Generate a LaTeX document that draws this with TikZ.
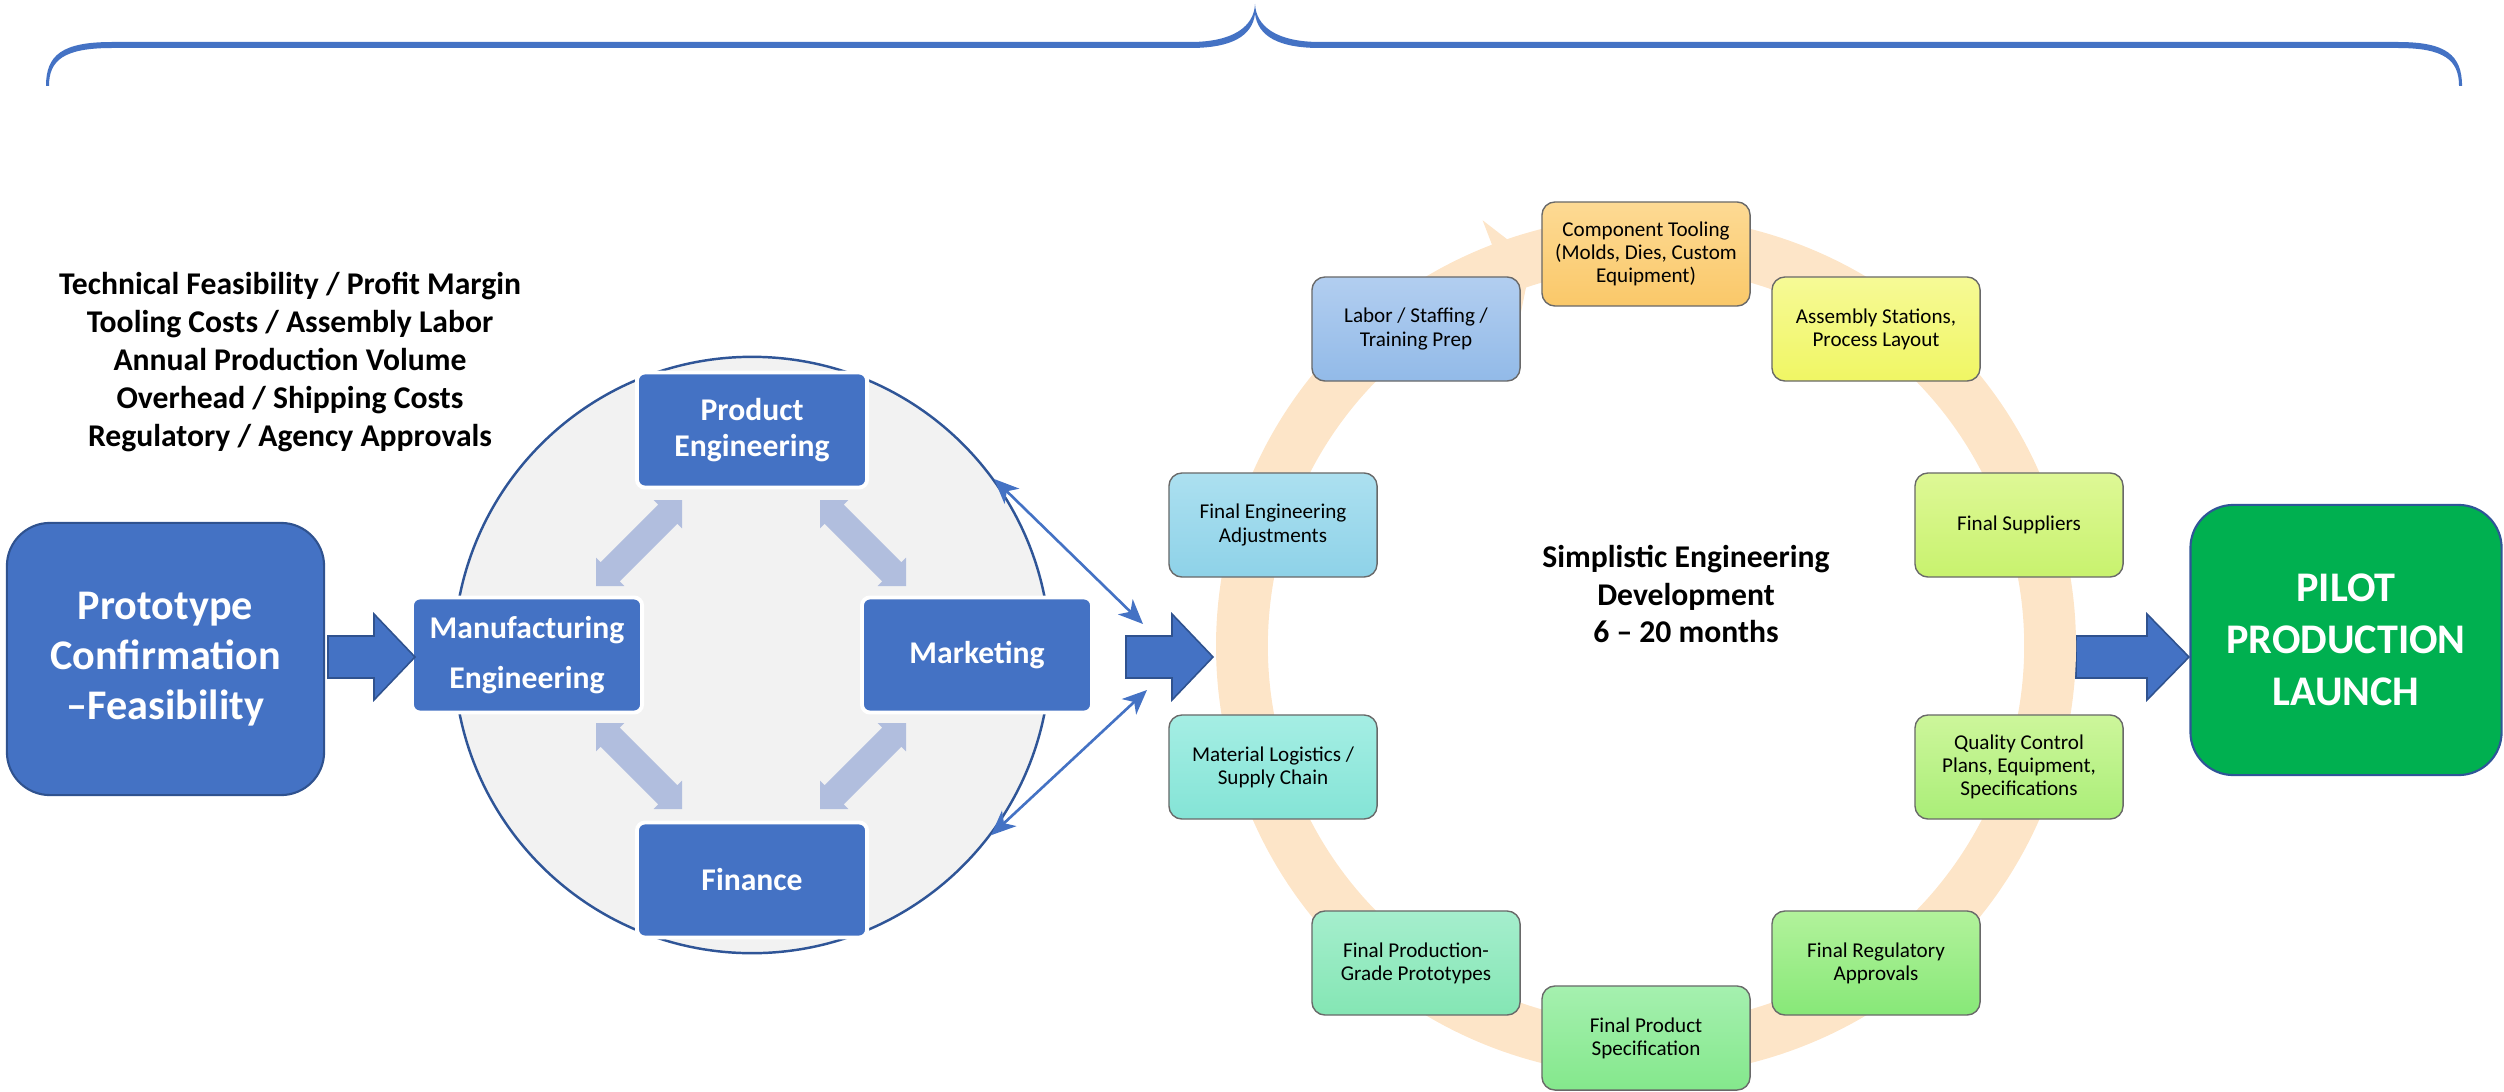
\documentclass[tikz,border=0pt]{standalone}
\usepackage{fontspec}
\setmainfont{Carlito}
\usetikzlibrary{arrows.meta,calc}
\definecolor{mainblue}{RGB}{68,114,196}
\definecolor{darkblue}{RGB}{47,82,143}
\definecolor{navy}{RGB}{47,85,151}
\definecolor{circfill}{RGB}{242,242,242}
\definecolor{lightarr}{RGB}{177,190,222}
\definecolor{peach}{RGB}{253,229,200}
\definecolor{pilotgreen}{RGB}{0,176,80}
\definecolor{cyborder}{RGB}{105,105,105}
\definecolor{cAt}{RGB}{253,218,148}\definecolor{cAb}{RGB}{250,200,105}
\definecolor{cBt}{RGB}{246,250,150}\definecolor{cBb}{RGB}{240,246,100}
\definecolor{cCt}{RGB}{222,248,150}\definecolor{cCb}{RGB}{200,242,110}
\definecolor{cDt}{RGB}{205,246,155}\definecolor{cDb}{RGB}{170,238,120}
\definecolor{cEt}{RGB}{178,242,155}\definecolor{cEb}{RGB}{135,232,120}
\definecolor{cFt}{RGB}{165,240,175}\definecolor{cFb}{RGB}{132,232,140}
\definecolor{cGt}{RGB}{165,238,205}\definecolor{cGb}{RGB}{132,230,180}
\definecolor{cHt}{RGB}{165,238,228}\definecolor{cHb}{RGB}{132,228,214}
\definecolor{cIt}{RGB}{172,224,240}\definecolor{cIb}{RGB}{142,210,232}
\definecolor{cJt}{RGB}{178,206,240}\definecolor{cJb}{RGB}{146,186,232}
\newcommand{\dblarrow}[2]{%
  \fill[lightarrow] (#1) -- ($(#1)!0.2828cm!45:(#2)$) -- ($(#1)!0.2413cm!34.02:(#2)$)
   -- ($(#2)!0.2413cm!-34.02:(#1)$) -- ($(#2)!0.2828cm!-45:(#1)$) -- (#2)
   -- ($(#2)!0.2828cm!45:(#1)$) -- ($(#2)!0.2413cm!34.02:(#1)$)
   -- ($(#1)!0.2413cm!-34.02:(#2)$) -- ($(#1)!0.2828cm!-45:(#2)$) -- cycle;}
\newcommand{\blkarrow}[3]{%
  \draw[blockarrow] (#1,636) -- (#2,636) -- (#2,614) -- (#3,657) -- (#2,700) -- (#2,678) -- (#1,678) -- cycle;}
\begin{document}
\begin{tikzpicture}[x=0.01cm,y=-0.01cm,
  bigbox/.style={rounded corners=0.43cm, draw=darkblue, line width=0.6pt, fill=mainblue, text=white,
    font=\fontsize{12}{14.3}\selectfont\bfseries, align=center, inner sep=0},
  teambox/.style={rounded corners=0.08cm, draw=white, line width=1.1pt, fill=mainblue, text=white,
    font=\fontsize{9}{10.2}\selectfont\bfseries, align=center, minimum width=2.3cm, minimum height=1.15cm, inner sep=0},
  cyclebox/.style={rounded corners=0.13cm, draw=cyborder, line width=0.4pt, minimum width=2.08cm,
    minimum height=1.04cm, align=center, font=\fontsize{6}{6.6}\selectfont, inner sep=0},
  blockarrow/.style={fill=mainblue, draw=darkblue, line width=0.45pt},
  lightarrow/.style={fill=lightarr},
  linkarrow/.style={draw=mainblue, line width=0.75pt,
    {Stealth[length=7pt,width=6pt,inset=2pt]}-{Stealth[length=7pt,width=6pt,inset=2pt]}},
  bigtext/.style={font=\fontsize{9}{10.8}\selectfont\bfseries, align=center}
]
\useasboundingbox (0,0) rectangle (2504,1091);

% brace
\fill[mainblue] (46,86) .. controls (46,55) and (62,42) .. (112,42) -- (1190,42)
  .. controls (1234,42) and (1254,26) .. (1255,4) .. controls (1256,26) and (1276,42) .. (1320,42)
  -- (2398,42) .. controls (2446,42) and (2462,55) .. (2462,86)
  -- (2459,86) .. controls (2459,60) and (2444,48) .. (2398,48) -- (1320,48)
  .. controls (1278,48) and (1258,36) .. (1255,14) .. controls (1252,36) and (1232,48) .. (1190,48)
  -- (112,48) .. controls (64,48) and (49,60) .. (49,86) -- cycle;

% left factors text
\node[bigtext] (factors) at (290,362) {Technical Feasibility / Profit Margin\\Tooling Costs / Assembly Labor\\Annual Production Volume\\Overhead / Shipping Costs\\Regulatory / Agency Approvals};

% prototype box
\node[bigbox, minimum width=3.17cm, minimum height=2.72cm] (proto) at (165.5,659) {Prototype\\Confirmation\\–Feasibility};

% team circle
\node[circle, fill=circfill, draw=navy, line width=0.7pt, minimum size=5.96cm, inner sep=0] (team) at (752,655) {};

\coordinate (la1) at (596,586); \coordinate (la2) at (682,500);
\coordinate (lb1) at (820,500); \coordinate (lb2) at (906,586);
\coordinate (lc1) at (596,723); \coordinate (lc2) at (682,809);
\coordinate (ld1) at (906,723); \coordinate (ld2) at (820,809);
\dblarrow{la1}{la2}
\dblarrow{lb1}{lb2}
\dblarrow{lc1}{lc2}
\dblarrow{ld1}{ld2}

\node[teambox] (pe) at (752,430) {Product\\Engineering};
\node[teambox, font=\fontsize{9}{14.2}\selectfont\bfseries] (me) at (527,655) {Manufacturing\\Engineering};
\node[teambox] (mk) at (977,655) {Marketing};
\node[teambox] (fi) at (752,880) {Finance};

% link arrows
\coordinate (lk1) at (1143,624);
\coordinate (lk2) at (1147,690);
\draw[linkarrow] (team.36) -- (lk1);
\draw[linkarrow] (team.-37) -- (lk2);

% block arrows
\blkarrow{328}{374}{415}
\blkarrow{1126}{1172}{1213}
\blkarrow{2076}{2147}{2189}

% cycle ring
\draw[peach, line width=14.74pt] ([shift={(1646,646)}]-110.6:404) arc[start angle=-110.6, end angle=280, radius=404];
\fill[peach] ([shift={(1646,646)}]-111:456) -- ([shift={(1646,646)}]-106.4:404) -- ([shift={(1646,646)}]-111:352) -- cycle;

% cycle boxes
\node[cyclebox, top color=cAt, bottom color=cAb] (c1) at (1646,254) {Component Tooling\\(Molds, Dies, Custom\\Equipment)};
\node[cyclebox, top color=cBt, bottom color=cBb] (c2) at (1876,329) {Assembly Stations,\\Process Layout};
\node[cyclebox, top color=cCt, bottom color=cCb] (c3) at (2019,525) {Final Suppliers};
\node[cyclebox, top color=cDt, bottom color=cDb] (c4) at (2019,767) {Quality Control\\Plans, Equipment,\\Specifications};
\node[cyclebox, top color=cEt, bottom color=cEb] (c5) at (1876,963) {Final Regulatory\\Approvals};
\node[cyclebox, top color=cFt, bottom color=cFb] (c6) at (1646,1038) {Final Product\\Specification};
\node[cyclebox, top color=cGt, bottom color=cGb] (c7) at (1416,963) {Final Production-\\Grade Prototypes};
\node[cyclebox, top color=cHt, bottom color=cHb] (c8) at (1273,767) {Material Logistics /\\Supply Chain};
\node[cyclebox, top color=cIt, bottom color=cIb] (c9) at (1273,525) {Final Engineering\\Adjustments};
\node[cyclebox, top color=cJt, bottom color=cJb] (c10) at (1416,329) {Labor / Staffing /\\Training Prep};

\node[bigtext] (phase) at (1686,594) {Simplistic Engineering\\Development\\6 – 20 months};

% pilot
\node[bigbox, fill=pilotgreen, draw=navy, font=\fontsize{12}{14.7}\selectfont\bfseries, minimum width=3.11cm, minimum height=2.70cm] (pilot) at (2346,640) {PILOT\\PRODUCTION\\LAUNCH};
\end{tikzpicture}
\end{document}
